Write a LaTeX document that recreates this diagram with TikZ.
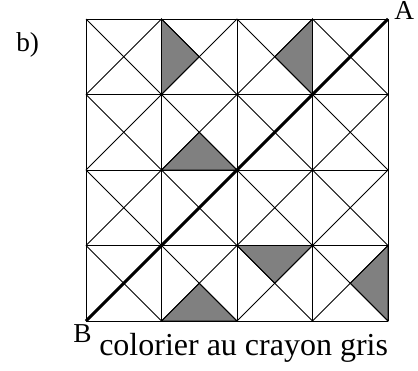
\documentclass[tikz,border=0pt]{standalone}
\usepackage{fontspec}
\setmainfont{Liberation Serif}
\definecolor{shade}{HTML}{808080}
\tikzset{
  gridline/.style={line width=0.7pt, black},
  diagline/.style={line width=0.55pt, black},
  thickline/.style={line width=2.3pt, black},
  shaded/.style={fill=shade, draw=black, line width=0.55pt},
  lbl/.style={inner sep=0pt, anchor=base west, font=\fontsize{20.5}{24}\selectfont},
  caption/.style={inner sep=0pt, anchor=base west, font=\fontsize{24}{28}\selectfont}
}
\begin{document}
\begin{tikzpicture}[x=0.75pt, y=-0.75pt]
\useasboundingbox (0,0) rectangle (418,371);
% grid points and cell centres
\foreach \i in {0,...,4}{
  \foreach \j in {0,...,4}{
    \coordinate (p\i\j) at ({86+75.5*\i},{19+75.5*\j});
  }
}
\foreach \i in {0,...,3}{
  \foreach \j in {0,...,3}{
    \coordinate (c\i\j) at ({86+75.5*(\i+0.5)},{19+75.5*(\j+0.5)});
  }
}
% shaded triangles
\fill[shaded] (p10) -- (p11) -- (c10) -- cycle;
\fill[shaded] (p30) -- (p31) -- (c20) -- cycle;
\fill[shaded] (p12) -- (p22) -- (c11) -- cycle;
\fill[shaded] (p23) -- (p33) -- (c23) -- cycle;
\fill[shaded] (p43) -- (p44) -- (c33) -- cycle;
\fill[shaded] (p14) -- (p24) -- (c13) -- cycle;
% diagonals of each cell
\foreach \i/\k in {0/1,1/2,2/3,3/4}{
  \foreach \j/\l in {0/1,1/2,2/3,3/4}{
    \draw[diagline] (p\i\j) -- (p\k\l);
    \draw[diagline] (p\k\j) -- (p\i\l);
  }
}
% grid lines
\foreach \i in {0,...,4}{
  \draw[gridline] (p\i0) -- (p\i4);
  \draw[gridline] (p0\i) -- (p4\i);
}
% thick line B to A
\draw[thickline] (p04) -- (p40);
% labels
\node[lbl] (labA) at (394,20) {A};
\node[lbl] (labB) at (73,342) {B};
\node[lbl] (labb) at (16,51) {b)};
\node[caption] (cap) at (99,355) {colorier au crayon gris};
\end{tikzpicture}
\end{document}
